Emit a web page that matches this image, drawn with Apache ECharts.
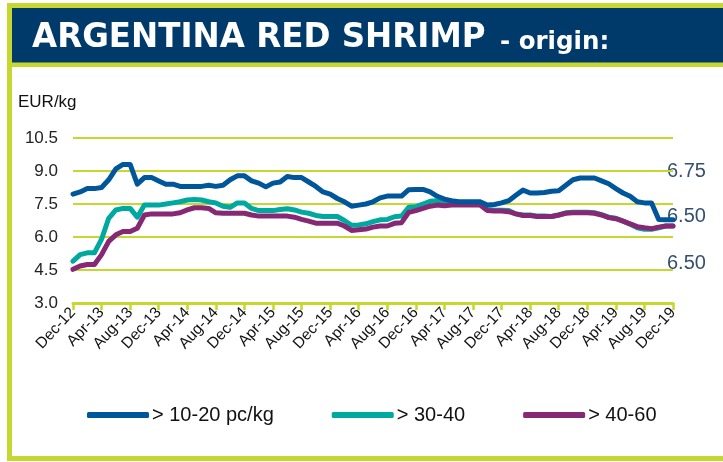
<!DOCTYPE html>
<html>
<head>
<meta charset="utf-8">
<script src="https://cdn.jsdelivr.net/npm/echarts@6/dist/echarts.min.js"></script>
<style>
  html, body { margin: 0; padding: 0; background: #fff; }
  #chart { width: 723px; height: 462px; }
</style>
</head>
<body>
<div id="chart"></div>
<script>
// monthly prices, EUR/kg, Dec-12 .. Dec-19
const months = [
  'Dec-12', 'Jan-13', 'Feb-13', 'Mar-13', 'Apr-13', 'May-13', 'Jun-13', 'Jul-13', 'Aug-13', 'Sep-13', 'Oct-13', 'Nov-13',
  'Dec-13', 'Jan-14', 'Feb-14', 'Mar-14', 'Apr-14', 'May-14', 'Jun-14', 'Jul-14', 'Aug-14', 'Sep-14', 'Oct-14', 'Nov-14',
  'Dec-14', 'Jan-15', 'Feb-15', 'Mar-15', 'Apr-15', 'May-15', 'Jun-15', 'Jul-15', 'Aug-15', 'Sep-15', 'Oct-15', 'Nov-15',
  'Dec-15', 'Jan-16', 'Feb-16', 'Mar-16', 'Apr-16', 'May-16', 'Jun-16', 'Jul-16', 'Aug-16', 'Sep-16', 'Oct-16', 'Nov-16',
  'Dec-16', 'Jan-17', 'Feb-17', 'Mar-17', 'Apr-17', 'May-17', 'Jun-17', 'Jul-17', 'Aug-17', 'Sep-17', 'Oct-17', 'Nov-17',
  'Dec-17', 'Jan-18', 'Feb-18', 'Mar-18', 'Apr-18', 'May-18', 'Jun-18', 'Jul-18', 'Aug-18', 'Sep-18', 'Oct-18', 'Nov-18',
  'Dec-18', 'Jan-19', 'Feb-19', 'Mar-19', 'Apr-19', 'May-19', 'Jun-19', 'Jul-19', 'Aug-19', 'Sep-19', 'Oct-19', 'Nov-19',
  'Dec-19'
]

const size1020 = [
  7.95, 8.05, 8.2, 8.2, 8.25, 8.6, 9.1, 9.3, 9.3, 8.4, 8.7, 8.7,
  8.55, 8.4, 8.4, 8.3, 8.3, 8.3, 8.3, 8.35, 8.3, 8.35, 8.6, 8.78,
  8.78, 8.55, 8.45, 8.28, 8.45, 8.5, 8.75, 8.7, 8.7, 8.5, 8.3, 8.05,
  7.95, 7.75, 7.6, 7.4, 7.45, 7.5, 7.6, 7.78, 7.86, 7.86, 7.86, 8.15,
  8.16, 8.16, 8.05, 7.85, 7.72, 7.65, 7.6, 7.6, 7.6, 7.6, 7.45, 7.48,
  7.55, 7.65, 7.9, 8.13, 8.0, 8.0, 8.02, 8.08, 8.1, 8.35, 8.6, 8.68,
  8.68, 8.68, 8.55, 8.42, 8.2, 8.0, 7.85, 7.6, 7.55, 7.55, 6.8, 6.78,
  6.78
]

const size3040 = [
  4.9, 5.2, 5.28, 5.28, 5.9, 6.85, 7.23, 7.3, 7.3, 6.9, 7.45, 7.45,
  7.45, 7.5, 7.55, 7.6, 7.68, 7.7, 7.68, 7.6, 7.55, 7.4, 7.35, 7.55,
  7.55, 7.3, 7.2, 7.2, 7.2, 7.25, 7.28, 7.23, 7.13, 7.08, 6.98, 6.93,
  6.93, 6.93, 6.75, 6.53, 6.55, 6.6, 6.7, 6.78, 6.8, 6.92, 6.95, 7.35,
  7.38, 7.5, 7.62, 7.65, 7.55, 7.52, 7.52, 7.52, 7.52, 7.5, 7.25, 7.22,
  7.22, 7.2, 7.05, 7.0, 7.0, 6.95, 6.95, 6.93, 7.0, 7.1, 7.12, 7.12,
  7.12, 7.1, 7.02, 6.9, 6.85, 6.72, 6.58, 6.42, 6.35, 6.35, 6.42, 6.5,
  6.5
]

const size4060 = [
  4.53, 4.68, 4.75, 4.75, 5.2, 5.8, 6.1, 6.25, 6.25, 6.4, 7.0, 7.05,
  7.05, 7.05, 7.05, 7.1, 7.23, 7.33, 7.33, 7.3, 7.1, 7.08, 7.08, 7.08,
  7.08, 7.0, 6.95, 6.95, 6.95, 6.95, 6.95, 6.9, 6.8, 6.72, 6.63, 6.63,
  6.63, 6.63, 6.5, 6.3, 6.33, 6.36, 6.45, 6.5, 6.5, 6.62, 6.65, 7.12,
  7.2, 7.3, 7.4, 7.45, 7.42, 7.45, 7.45, 7.45, 7.45, 7.45, 7.2, 7.18,
  7.18, 7.15, 7.05, 6.98, 6.98, 6.93, 6.93, 6.93, 7.0, 7.08, 7.1, 7.1,
  7.1, 7.08, 7.0, 6.88, 6.83, 6.72, 6.6, 6.47, 6.42, 6.38, 6.45, 6.5,
  6.5
]

const seriesNames = ['> 10-20 pc/kg', '> 30-40', '> 40-60']
const sideNotes = ['6.75', '6.50', '6.50']

const green = '#c5d730'
const navy = '#003a6b'
const colors = ['#00569a', '#00a99f', '#872874']

const chart = echarts.init(document.getElementById('chart'))

function makeLine(name, data, color, z) {
  return {
    name: name,
    type: 'line',
    data: data,
    showSymbol: false,
    symbol: 'none',
    z: z,
    lineStyle: { color: color, width: 5, join: 'round', cap: 'round' },
    itemStyle: { color: color },
    animation: false
  }
}

const noteStyle = { fontFamily: 'Liberation Sans', fontSize: 20, fill: '#34506f' }

const option = {
  backgroundColor: '#fff',
  animation: false,
  color: colors,
  grid: {
    left: 73,
    right: 50,
    top: 138,
    bottom: 159
  },
  legend: {
    data: seriesNames,
    left: 82,
    top: 400,
    icon: 'roundRect',
    itemWidth: 62,
    itemHeight: 6,
    itemGap: 58,
    textStyle: {
      fontFamily: 'Liberation Sans',
      fontSize: 20,
      color: '#111',
      padding: [0, 0, 0, -2]
    }
  },
  xAxis: {
    type: 'category',
    data: months,
    boundaryGap: false,
    axisLine: { lineStyle: { color: green, width: 3 } },
    axisTick: {
      interval: 3,
      length: 7,
      lineStyle: { color: green, width: 2.5 }
    },
    axisLabel: {
      interval: 3,
      rotate: 47,
      margin: 7,
      fontFamily: 'Liberation Sans',
      fontSize: 15.5,
      color: '#111'
    },
    splitLine: { show: false }
  },
  yAxis: {
    type: 'value',
    min: 3,
    max: 10.5,
    interval: 1.5,
    name: 'EUR/kg',
    nameLocation: 'end',
    nameGap: 27,
    nameTextStyle: {
      fontFamily: 'Liberation Sans',
      fontSize: 17,
      color: '#111',
      align: 'left',
      padding: [0, 0, 0, -55]
    },
    axisLine: { show: false },
    axisTick: { show: false },
    axisLabel: {
      margin: 15,
      fontFamily: 'Liberation Sans',
      fontSize: 17,
      color: '#222',
      formatter: v => v.toFixed(1)
    },
    splitLine: { lineStyle: { color: green, width: 2 } }
  },
  graphic: [
    {
      type: 'rect',
      shape: { x: 9.5, y: 5.5, width: 800, height: 453 },
      style: { fill: null, stroke: green, lineWidth: 5 },
      silent: true
    },
    {
      type: 'rect',
      shape: { x: 12, y: 8, width: 711, height: 55 },
      style: { fill: navy },
      silent: true
    },
    {
      type: 'rect',
      shape: { x: 12, y: 62.5, width: 711, height: 4.5 },
      style: { fill: green },
      silent: true
    },
    {
      type: 'text',
      x: 32,
      y: 40,
      scaleY: 1.06,
      originY: 40,
      style: {
        text: 'ARGENTINA RED SHRIMP',
        fontFamily: 'DejaVu Sans',
        fontWeight: 'bold',
        fontSize: 32.5,
        fill: '#fff',
        verticalAlign: 'middle'
      },
      silent: true
    },
    {
      type: 'text',
      x: 500,
      y: 42.5,
      style: {
        text: '- origin:',
        fontFamily: 'DejaVu Sans',
        fontWeight: 'bold',
        fontSize: 24.5,
        fill: '#fff',
        verticalAlign: 'middle'
      },
      silent: true
    },
    {
      type: 'group',
      left: 667,
      top: 161,
      z: 100,
      children: [
        { type: 'text', x: 0, y: 0, style: Object.assign({ text: sideNotes[0] }, noteStyle) },
        { type: 'text', x: 0, y: 45, style: Object.assign({ text: sideNotes[1] }, noteStyle) },
        { type: 'text', x: 0, y: 92, style: Object.assign({ text: sideNotes[2] }, noteStyle) }
      ]
    }
  ],
  series: [
    makeLine(seriesNames[2], size4060, colors[2], 3),
    makeLine(seriesNames[1], size3040, colors[1], 2),
    makeLine(seriesNames[0], size1020, colors[0], 4)
  ]
}

chart.setOption(option)
</script>
</body>
</html>
